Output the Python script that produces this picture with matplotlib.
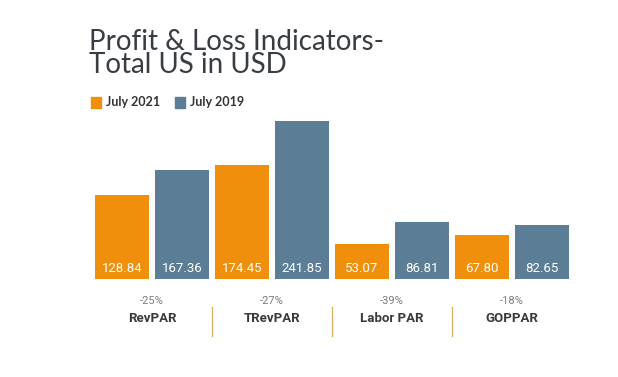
import numpy as np
import matplotlib.pyplot as plt
import matplotlib.transforms as mtransforms

categories = ["RevPAR", "TRevPAR", "Labor PAR", "GOPPAR"]
july_2021 = [128.84, 174.45, 53.07, 67.80]
july_2019 = [167.36, 241.85, 86.81, 82.65]
changes = ["-25%", "-27%", "-39%", "-18%"]

orange = "#EF8F0B"
blue = "#5B7E96"
title_color = "#383D43"

fig = plt.figure(figsize=(6.18, 3.77), dpi=100)
fig.patch.set_facecolor("white")

H = 377.0
ax = fig.add_axes([92 / 618, 1 - 279 / H, 480 / 618, (279 - 110) / H])

x21 = np.arange(len(categories)) * 2
x19 = x21 + 1
ax.bar(x21, july_2021, width=0.9, color=orange)
ax.bar(x19, july_2019, width=0.9, color=blue)

ax.set_xlim(-0.5, 7.5)
ax.set_ylim(0, (279 - 110) / 0.653)
ax.axis("off")

# value labels inside bars, near the bottom
trans = mtransforms.blended_transform_factory(ax.transData, fig.transFigure)
for xs, vals in [(x21, july_2021), (x19, july_2019)]:
    for x, v in zip(xs, vals):
        ax.text(x, 1 - 268 / H, f"{v:.2f}", transform=trans, ha="center", va="center",
                color="white", fontsize=9.5, family="Roboto", fontstretch="condensed")

# percent change and category labels
for i, (cat, ch) in enumerate(zip(categories, changes)):
    xc = x21[i] + 0.5
    ax.text(xc, 1 - 301 / H, ch, transform=trans, ha="center", va="center",
            color="#7c7c7c", fontsize=8, family="Roboto", fontstretch="condensed")
    ax.text(xc, 1 - 319 / H, cat, transform=trans, ha="center", va="center",
            color="#3a3a3a", fontsize=9.5, fontweight="bold", family="Roboto",
            fontstretch="condensed")

# separators between groups
for xs in [1.5, 3.5, 5.5]:
    ax.plot([xs, xs], [1 - 307 / H, 1 - 336 / H], transform=trans, color="#D9B56A",
            lw=1.0, clip_on=False)

# title
fig.text(89 / 618, 1 - 29 / H, "Profit & Loss Indicators-\nTotal US in USD", ha="left",
         va="top", fontsize=20, color=title_color, family="Lato", linespacing=0.85)

# legend
legend_items = [("July 2021", orange, 91), ("July 2019", blue, 175)]
for label, col, lx in legend_items:
    fig.patches.append(plt.Rectangle((lx / 618, 1 - 108 / H), 10 / 618, 11 / H,
                                     transform=fig.transFigure, color=col))
    fig.text((lx + 15) / 618, 1 - 102.5 / H, label, ha="left", va="center",
             fontsize=9, fontweight="bold", color="#333333", family="Lato")

fig.savefig("out.png", dpi=100)
